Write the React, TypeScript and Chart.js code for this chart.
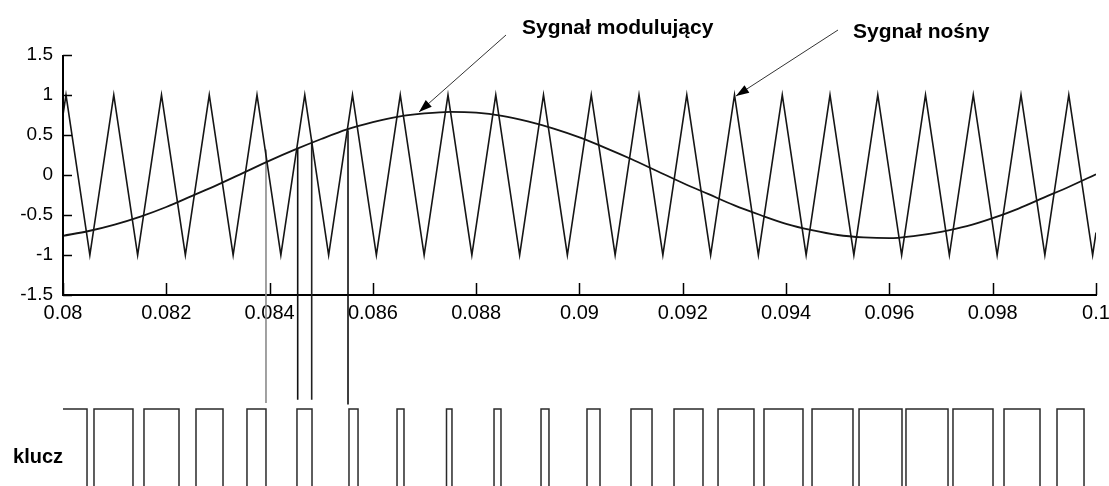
import React, { useEffect, useRef } from 'react';
import { Chart, registerables } from 'chart.js';

Chart.register(...registerables);

// ---- axes ----
const X_MIN = 0.08;
const X_MAX = 0.1;
const xTickValues = [0.08, 0.082, 0.084, 0.086, 0.088, 0.09, 0.092, 0.094, 0.096, 0.098, 0.1];
const xTickLabels = ['0.08', '0.082', '0.084', '0.086', '0.088', '0.09', '0.092', '0.094', '0.096', '0.098', '0.1'];
const yTickValues = [-1.5, -1, -0.5, 0, 0.5, 1, 1.5];
const yTickLabels = ['-1.5', '-1', '-0.5', '0', '0.5', '1', '1.5'];
// full vertical range of the drawing (includes the "klucz" strip below the axes)
const Y_VIEW_MIN = -3.8875;
const Y_VIEW_MAX = 2.1875;

// ---- modulating signal (Sygnał modulujący) ----
const modT = [
  0.08, 0.0805, 0.081, 0.0815, 0.082, 0.0825, 0.083, 0.0835, 0.084, 0.0845,
  0.085, 0.0855, 0.086, 0.0865, 0.087, 0.0875, 0.088, 0.0885, 0.089, 0.0895,
  0.09, 0.0905, 0.091, 0.0915, 0.092, 0.0925, 0.093, 0.0935, 0.094, 0.0945,
  0.095, 0.0955, 0.096, 0.0965, 0.097, 0.0975, 0.098, 0.0985, 0.099, 0.0995, 0.1,
];
const modV = [
  -0.76, -0.70, -0.62, -0.52, -0.40, -0.26, -0.12, 0.03, 0.18, 0.32,
  0.45, 0.57, 0.66, 0.73, 0.77, 0.79, 0.78, 0.74, 0.67, 0.58,
  0.47, 0.34, 0.20, 0.05, -0.10, -0.24, -0.38, -0.50, -0.61, -0.69,
  -0.75, -0.78, -0.79, -0.76, -0.71, -0.64, -0.54, -0.42, -0.28, -0.14, 0.01,
];

// ---- carrier (Sygnał nośny): triangle vertices ----
const carrierT = [
  0.08,
  0.080058, 0.08052, 0.080983, 0.081445, 0.081907, 0.082369, 0.082832, 0.083294,
  0.083756, 0.084218, 0.084681, 0.085143, 0.085605, 0.086067, 0.08653, 0.086992,
  0.087454, 0.087916, 0.088379, 0.088841, 0.089303, 0.089765, 0.090228, 0.09069,
  0.091152, 0.091614, 0.092077, 0.092539, 0.093001, 0.093463, 0.093926, 0.094388,
  0.09485, 0.095312, 0.095775, 0.096237, 0.096699, 0.097161, 0.097624, 0.098086,
  0.098548, 0.09901, 0.099473, 0.099935,
  0.1,
];
const carrierV = [
  0.75,
  1, -1, 1, -1, 1, -1, 1, -1,
  1, -1, 1, -1, 1, -1, 1, -1,
  1, -1, 1, -1, 1, -1, 1, -1,
  1, -1, 1, -1, 1, -1, 1, -1,
  1, -1, 1, -1, 1, -1, 1, -1,
  1, -1, 1, -1,
  -0.72,
];

// ---- switching signal (klucz): edge times, starting high ----
const kluczEdges = [
  0.080465, 0.0806, 0.081355, 0.081568, 0.082246, 0.082575, 0.083098, 0.083562,
  0.08393, 0.08453, 0.084821, 0.085537, 0.085712, 0.086467, 0.086602, 0.087425,
  0.087531, 0.088345, 0.08848, 0.089255, 0.089409, 0.090145, 0.090397, 0.090997,
  0.091404, 0.09183, 0.092391, 0.092682, 0.093378, 0.093572, 0.094327, 0.094502,
  0.095295, 0.095412, 0.096244, 0.096321, 0.097135, 0.097231, 0.098006, 0.098219,
  0.098916, 0.099245, 0.099768,
];
const kluczHigh = -2.925;
const kluczLow = -4.6;

// ---- guide lines from intersections down to the switching signal ----
const guideT = [0.08393, 0.084544, 0.084815, 0.085518];
const guideTop = [0.32, 0.33, 0.44, 0.56];
const guideBottom = [-2.85, -2.81, -2.81, -2.87];
const guideColors = ['#8a8a8a', '#111111', '#222222', '#111111'];

// ---- annotations ----
const arrowStartT = [0.088577, 0.095005];
const arrowStartV = [1.75, 1.8125];
const arrowEndT = [0.086893, 0.09303];
const arrowEndV = [0.7875, 0.9875];

const labelTexts = ['Sygnał modulujący', 'Sygnał nośny', 'klucz'];
const labelT = [0.088887, 0.095295, 0.079032];
const labelV = [1.7625, 1.7125, -3.6];

const FONT = '"Liberation Sans", Arial, sans-serif';

const axesPlugin = {
  id: 'matlabAxes',
  afterDraw(chart: any) {
    const { ctx } = chart;
    const x = chart.scales.x;
    const y = chart.scales.y;
    const x0 = x.getPixelForValue(X_MIN);
    const yb = y.getPixelForValue(yTickValues[0]);
    const yt = y.getPixelForValue(yTickValues[yTickValues.length - 1]);
    ctx.save();
    ctx.strokeStyle = '#000';
    ctx.lineWidth = 2;
    ctx.beginPath();
    ctx.moveTo(x0, yb);
    ctx.lineTo(x0, yt);
    ctx.stroke();
    ctx.lineWidth = 1.5;
    ctx.beginPath();
    yTickValues.forEach((v) => {
      const py = Math.round(y.getPixelForValue(v)) + 0.5;
      ctx.moveTo(x0, py);
      ctx.lineTo(x0 + 9, py);
    });
    xTickValues.forEach((v) => {
      const px = Math.round(x.getPixelForValue(v)) + 0.5;
      ctx.moveTo(px, yb);
      ctx.lineTo(px, yb - 12);
    });
    ctx.stroke();

    // arrow heads
    ctx.fillStyle = '#000';
    arrowEndT.forEach((t, i) => {
      const ex = x.getPixelForValue(t);
      const ey = y.getPixelForValue(arrowEndV[i]);
      const sx = x.getPixelForValue(arrowStartT[i]);
      const sy = y.getPixelForValue(arrowStartV[i]);
      const len = Math.hypot(ex - sx, ey - sy);
      const ux = (ex - sx) / len;
      const uy = (ey - sy) / len;
      const bx = ex - ux * 13;
      const by = ey - uy * 13;
      ctx.beginPath();
      ctx.moveTo(ex, ey);
      ctx.lineTo(bx - uy * 4.5, by + ux * 4.5);
      ctx.lineTo(bx + uy * 4.5, by - ux * 4.5);
      ctx.closePath();
      ctx.fill();
    });

    // labels
    ctx.fillStyle = '#000';
    ctx.textBaseline = 'alphabetic';
    ctx.textAlign = 'left';
    labelTexts.forEach((txt, i) => {
      ctx.font = i === 2 ? `bold 20px ${FONT}` : `bold 21px ${FONT}`;
      ctx.fillText(txt, x.getPixelForValue(labelT[i]), y.getPixelForValue(labelV[i]));
    });
    ctx.restore();
  },
};

export default function App() {
  const ref = useRef<HTMLCanvasElement | null>(null);

  useEffect(() => {
    document.body.style.margin = '0';
    const canvas = ref.current;
    if (!canvas) return;

    const kluczPts: { x: number; y: number }[] = [{ x: X_MIN, y: kluczHigh }];
    let level = kluczHigh;
    kluczEdges.forEach((t) => {
      kluczPts.push({ x: t, y: level });
      level = level === kluczHigh ? kluczLow : kluczHigh;
      kluczPts.push({ x: t, y: level });
    });
    kluczPts.push({ x: X_MAX, y: level });

    const base = { pointRadius: 0, fill: false, borderJoinStyle: 'miter' as const };

    const datasets: any[] = [
      {
        ...base,
        data: carrierT.map((t, i) => ({ x: t, y: carrierV[i] })),
        borderColor: '#151515',
        borderWidth: 1.6,
        tension: 0,
      },
      {
        ...base,
        data: modT.map((t, i) => ({ x: t, y: modV[i] })),
        borderColor: '#151515',
        borderWidth: 1.8,
        tension: 0.4,
        cubicInterpolationMode: 'monotone',
      },
      {
        ...base,
        data: kluczPts,
        borderColor: '#2a2a2a',
        borderWidth: 1.5,
        tension: 0,
      },
      ...guideT.map((t, i) => ({
        ...base,
        data: [
          { x: t, y: guideTop[i] },
          { x: t, y: guideBottom[i] },
        ],
        borderColor: guideColors[i],
        borderWidth: 1.6,
      })),
      ...arrowStartT.map((t, i) => ({
        ...base,
        data: [
          { x: t, y: arrowStartV[i] },
          { x: arrowEndT[i], y: arrowEndV[i] },
        ],
        borderColor: '#333',
        borderWidth: 1,
      })),
    ];

    const chart = new Chart(canvas, {
      type: 'line',
      data: { datasets },
      plugins: [axesPlugin],
      options: {
        animation: false,
        responsive: false,
        maintainAspectRatio: false,
        layout: { padding: { left: 0, right: 13, top: 0, bottom: 0 } },
        plugins: { legend: { display: false }, tooltip: { enabled: false } },
        elements: { point: { radius: 0 } },
        scales: {
          x: {
            type: 'linear',
            min: X_MIN,
            max: X_MAX,
            position: { y: yTickValues[0] } as any,
            afterBuildTicks: (s: any) => {
              s.ticks = xTickValues.map((v) => ({ value: v }));
            },
            afterFit: (s: any) => {
              s.paddingLeft = 0;
              s.paddingRight = 0;
              s.paddingTop = 0;
              s.paddingBottom = 0;
            },
            grid: { display: false, drawTicks: false },
            border: { display: true, color: '#000', width: 2 },
            ticks: {
              autoSkip: false,
              maxRotation: 0,
              minRotation: 0,
              padding: 6,
              color: '#000',
              font: { family: FONT, size: 20 },
              callback: (_v: any, i: number) => xTickLabels[i],
            },
          },
          y: {
            type: 'linear',
            min: Y_VIEW_MIN,
            max: Y_VIEW_MAX,
            position: 'left',
            afterBuildTicks: (s: any) => {
              s.ticks = yTickValues.map((v) => ({ value: v }));
            },
            afterFit: (s: any) => {
              s.width = 63;
              s.paddingTop = 0;
              s.paddingBottom = 0;
            },
            grid: { display: false, drawTicks: false },
            border: { display: false },
            ticks: {
              autoSkip: false,
              padding: 10,
              color: '#000',
              font: { family: FONT, size: 19 },
              callback: (_v: any, i: number) => yTickLabels[i],
            },
          },
        },
      },
    });

    return () => chart.destroy();
  }, []);

  return <canvas ref={ref} width={1109} height={486} style={{ display: 'block' }} />;
}
